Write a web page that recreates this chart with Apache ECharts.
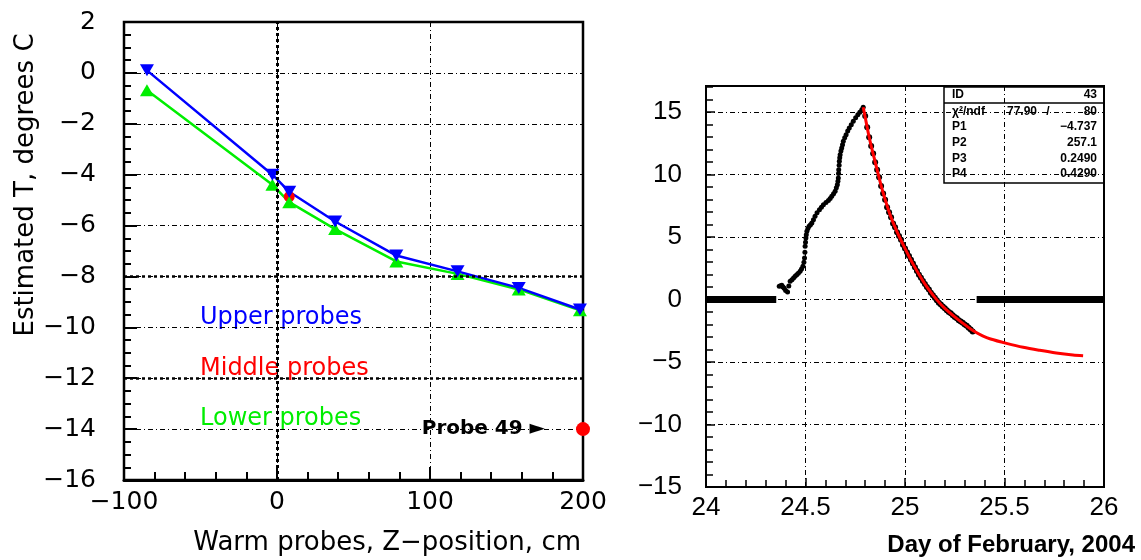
<!DOCTYPE html>
<html>
<head>
<meta charset="utf-8">
<script src="https://cdn.jsdelivr.net/npm/echarts@6/dist/echarts.min.js"></script>
<style>
html, body { margin: 0; padding: 0; background: #fff; }
#chart { width: 1141px; height: 560px; }
</style>
</head>
<body>
<div id="chart"></div>
<script>
// left panel: estimated temperature vs Z position of warm probes
var zPos = [-85, -3, 8, 38, 78, 118, 158, 198];
var upperT = [0.1, -4.0, -4.67, -5.84, -7.18, -7.8, -8.45, -9.3];
var lowerT = [-0.68, -4.4, -5.08, -6.14, -7.41, -7.9, -8.51, -9.33];
var middleZ = [8];
var middleT = [-4.86];
var probe49 = [[200, -14]];

// right panel: probe 43 temperature vs day of February 2004
var flatBefore = [[24, 0], [24.353, 0]];
var flatAfter = [[25.36, 0], [26, 0]];
var risePoints = [
  [24.368, 1.07], [24.375, 1.12], [24.381, 1.15], [24.387, 1.0], [24.393, 0.9], [24.40, 0.72],
  [24.41, 0.6], [24.416, 1.1], [24.423, 1.47], [24.432, 1.6], [24.44, 1.73], [24.448, 1.87],
  [24.456, 2.0], [24.464, 2.12], [24.473, 2.27], [24.48, 2.45], [24.487, 2.67], [24.492, 3.0],
  [24.495, 3.33], [24.497, 3.8], [24.498, 4.27], [24.50, 4.6], [24.502, 4.94], [24.504, 5.2],
  [24.507, 5.47], [24.512, 5.7], [24.518, 5.87], [24.525, 6.0], [24.532, 6.14], [24.54, 6.4],
  [24.548, 6.67], [24.558, 6.95], [24.57, 7.2], [24.58, 7.4], [24.59, 7.6], [24.603, 7.78],
  [24.615, 7.93], [24.624, 8.1], [24.632, 8.27], [24.641, 8.47], [24.649, 8.67], [24.655, 8.95],
  [24.66, 9.2], [24.663, 9.47], [24.665, 9.74], [24.666, 10.1], [24.667, 10.4], [24.669, 10.75],
  [24.67, 11.07], [24.672, 11.35], [24.674, 11.6], [24.678, 11.9], [24.682, 12.14], [24.686, 12.4],
  [24.69, 12.67], [24.697, 12.95], [24.704, 13.2], [24.712, 13.5], [24.72, 13.74], [24.73, 14.0],
  [24.74, 14.27], [24.752, 14.55], [24.763, 14.8], [24.773, 15.0], [24.783, 15.2], [24.79, 15.4]
];
var decayPoints = [
  [24.80, 14.7], [24.81, 13.8], [24.82, 13.0], [24.83, 12.3], [24.84, 11.7], [24.85, 11.0],
  [24.86, 10.4], [24.87, 9.8], [24.88, 9.1], [24.89, 8.5], [24.90, 8.0], [24.91, 7.4],
  [24.92, 7.0], [24.93, 6.6], [24.94, 6.1], [24.95, 5.8], [24.96, 5.4], [24.97, 5.1],
  [24.98, 4.8], [24.99, 4.4], [25.00, 4.1], [25.01, 3.8], [25.02, 3.5], [25.03, 3.2],
  [25.04, 2.9], [25.05, 2.6], [25.06, 2.3], [25.07, 2.0], [25.08, 1.75], [25.09, 1.5],
  [25.10, 1.25], [25.11, 1.0], [25.12, 0.8], [25.13, 0.55], [25.14, 0.35], [25.15, 0.15],
  [25.16, -0.05], [25.17, -0.25], [25.18, -0.4], [25.19, -0.55], [25.20, -0.7], [25.21, -0.85],
  [25.22, -1.0], [25.23, -1.1], [25.24, -1.25], [25.25, -1.4], [25.26, -1.5], [25.27, -1.65],
  [25.28, -1.75], [25.29, -1.85], [25.30, -2.0], [25.31, -2.1], [25.32, -2.25], [25.33, -2.4],
  [25.34, -2.55]
];
var fitCurve = [
  [24.79, 15.4], [24.80, 14.6], [24.816, 13.3], [24.83, 12.3], [24.841, 11.6], [24.866, 10.0],
  [24.891, 8.5], [24.925, 6.8], [24.958, 5.5], [25.0, 4.1], [25.042, 2.8], [25.092, 1.45],
  [25.12, 0.8], [25.159, 0], [25.2, -0.7], [25.259, -1.5], [25.3, -2.0], [25.343, -2.5],
  [25.39, -2.9], [25.43, -3.15], [25.51, -3.5], [25.594, -3.82], [25.677, -4.06],
  [25.76, -4.27], [25.844, -4.43], [25.895, -4.49]
];
var statLabels = ['P1', 'P2', 'P3', 'P4'];
var statValues = ['\u22124.737', '257.1', '0.2490', '0.4290'];

function zip(xs, ys) {
  return xs.map(function (x, i) { return [x, ys[i]]; });
}
function fmt(v) {
  return v < 0 ? '\u2212' + (-v) : String(v);
}

var gridDash = { color: '#000', width: 1, type: [5, 3, 1, 3] };
var leftFont = 'DejaVu Sans';
var rightFont = 'Liberation Sans';
var statFont = 'bold 12px "Liberation Sans"';

var chart = echarts.init(document.getElementById('chart'));

var option = {
  animation: false,
  backgroundColor: '#fff',
  grid: [
    { left: 124, top: 22, width: 459, height: 458, show: true, borderColor: '#000', borderWidth: 2.5 },
    { left: 706, top: 86, width: 398, height: 401, show: true, borderColor: '#000', borderWidth: 2 }
  ],
  xAxis: [
    {
      gridIndex: 0, type: 'value', min: -100, max: 200, interval: 100,
      axisLine: { show: true, onZero: false, lineStyle: { color: '#000', width: 3 } },
      axisTick: { inside: true, length: 13, lineStyle: { color: '#000', width: 2 } },
      minorTick: { show: true, splitNumber: 5, length: 8, lineStyle: { color: '#000', width: 2 } },
      axisLabel: { color: '#000', fontFamily: leftFont, fontSize: 25, margin: 10, formatter: fmt },
      splitLine: { show: true, lineStyle: gridDash }
    },
    {
      gridIndex: 1, type: 'value', min: 24, max: 26, interval: 0.5,
      axisLine: { show: true, onZero: false, lineStyle: { color: '#000', width: 2 } },
      axisTick: { inside: true, length: 9, lineStyle: { color: '#000', width: 1.5 } },
      minorTick: { show: true, splitNumber: 5, length: 7, lineStyle: { color: '#000', width: 1.5 } },
      axisLabel: { color: '#000', fontFamily: rightFont, fontSize: 26, margin: 8 },
      splitLine: { show: true, lineStyle: gridDash }
    }
  ],
  yAxis: [
    {
      gridIndex: 0, type: 'value', min: -16, max: 2, interval: 2,
      axisLine: { show: true, onZero: false, lineStyle: { color: '#000', width: 2 } },
      axisTick: { inside: true, length: 13, lineStyle: { color: '#000', width: 2 } },
      minorTick: { show: true, splitNumber: 4, length: 7, lineStyle: { color: '#000', width: 2 } },
      axisLabel: { color: '#000', fontFamily: leftFont, fontSize: 25, margin: 28, formatter: fmt },
      splitLine: { show: true, lineStyle: gridDash }
    },
    {
      gridIndex: 1, type: 'value', min: -15, max: 17.1, interval: 5,
      axisLine: { show: true, onZero: false, lineStyle: { color: '#000', width: 2 } },
      axisTick: { inside: true, length: 9, lineStyle: { color: '#000', width: 1.5 } },
      minorTick: { show: true, splitNumber: 5, length: 7, lineStyle: { color: '#000', width: 1.5 } },
      axisLabel: {
        color: '#000', fontFamily: rightFont, fontSize: 26, margin: 24, showMaxLabel: false,
        formatter: function (v) { return v % 5 === 0 ? fmt(v) : ''; }
      },
      splitLine: { show: true, lineStyle: gridDash }
    }
  ],
  series: [
    {
      name: 'Middle probes', type: 'line', xAxisIndex: 0, yAxisIndex: 0,
      data: zip(middleZ, middleT), symbol: 'circle', symbolSize: 11,
      itemStyle: { color: '#ff0000', opacity: 1 }, lineStyle: { color: '#ff0000', width: 2 },
      markLine: {
        silent: true, symbol: 'none', label: { show: false },
        lineStyle: { color: '#000', width: 3, type: [3, 3], opacity: 1 },
        data: [
          { xAxis: 0 },
          { yAxis: -8, lineStyle: { width: 2.5, type: [3, 3] } },
          { yAxis: -12, lineStyle: { width: 2.5, type: [3, 3] } }
        ]
      }
    },
    {
      name: 'Lower probes', type: 'line', xAxisIndex: 0, yAxisIndex: 0,
      data: zip(zPos, lowerT), symbol: 'triangle', symbolSize: [14, 12],
      itemStyle: { color: '#00ee00', opacity: 1 }, lineStyle: { color: '#00ee00', width: 2.5 }
    },
    {
      name: 'Upper probes', type: 'line', xAxisIndex: 0, yAxisIndex: 0,
      data: zip(zPos, upperT), symbol: 'triangle', symbolRotate: 180, symbolSize: [14, 12],
      itemStyle: { color: '#0000ff', opacity: 1 }, lineStyle: { color: '#0000ff', width: 2.5 }
    },
    {
      name: 'Probe 49', type: 'scatter', xAxisIndex: 0, yAxisIndex: 0,
      data: probe49, symbol: 'circle', symbolSize: 14,
      itemStyle: { color: '#ff0000', opacity: 1 },
      label: {
        show: true, position: 'left', distance: 31, formatter: 'Probe 49 \u25BA',
        color: '#000', opacity: 1, textBorderWidth: 0,
        fontFamily: leftFont, fontWeight: 'bold', fontSize: 20
      }
    },
    {
      type: 'line', xAxisIndex: 1, yAxisIndex: 1, data: flatBefore, symbol: 'none',
      lineStyle: { color: '#000', width: 7 }
    },
    {
      type: 'line', xAxisIndex: 1, yAxisIndex: 1, data: flatAfter, symbol: 'none',
      lineStyle: { color: '#000', width: 7 }
    },
    {
      type: 'scatter', xAxisIndex: 1, yAxisIndex: 1, data: risePoints,
      symbol: 'circle', symbolSize: 5, itemStyle: { color: '#000', opacity: 1 }
    },
    {
      type: 'scatter', xAxisIndex: 1, yAxisIndex: 1, data: decayPoints,
      symbol: 'circle', symbolSize: 6, itemStyle: { color: '#000', opacity: 1 }
    },
    {
      type: 'line', xAxisIndex: 1, yAxisIndex: 1, data: fitCurve, symbol: 'none',
      smooth: 0.3, lineStyle: { color: '#ff0000', width: 3 }, z: 5
    }
  ],
  graphic: [
    { type: 'text', x: 200, y: 318, style: { text: 'Upper probes', fill: '#0000ff', font: '24px "DejaVu Sans"', textVerticalAlign: 'middle' } },
    { type: 'text', x: 200, y: 369, style: { text: 'Middle probes', fill: '#ff0000', font: '24px "DejaVu Sans"', textVerticalAlign: 'middle' } },
    { type: 'text', x: 200, y: 419, style: { text: 'Lower probes', fill: '#00ee00', font: '24px "DejaVu Sans"', textVerticalAlign: 'middle' } },
    {
      type: 'text', x: 26, y: 185, rotation: Math.PI / 2,
      style: { text: 'Estimated T, degrees C', fill: '#000', font: '26px "DejaVu Sans"', textAlign: 'center', textVerticalAlign: 'middle' }
    },
    { type: 'text', x: 581, y: 543, style: { text: 'Warm probes, Z\u2212position, cm', fill: '#000', font: '26px "DejaVu Sans"', textAlign: 'right', textVerticalAlign: 'middle' } },
    { type: 'text', x: 1135, y: 545, style: { text: 'Day of February, 2004', fill: '#000', font: 'bold 24px "Liberation Sans"', textAlign: 'right', textVerticalAlign: 'middle' } },
    // fit statistics box
    { type: 'rect', shape: { x: 944, y: 87, width: 160, height: 96 }, style: { fill: 'none', stroke: '#000', lineWidth: 1.5 }, z: 10 },
    { type: 'line', shape: { x1: 944, y1: 103, x2: 1104, y2: 103 }, style: { stroke: '#000', lineWidth: 1.5 }, z: 10 },
    { type: 'text', x: 952, y: 95, style: { text: 'ID', fill: '#000', font: statFont, textVerticalAlign: 'middle' }, z: 10 },
    { type: 'text', x: 1097, y: 95, style: { text: '43', fill: '#000', font: statFont, textAlign: 'right', textVerticalAlign: 'middle' }, z: 10 },
    { type: 'text', x: 952, y: 112, style: { text: '\u03C7\u00B2/ndf', fill: '#000', font: statFont, textVerticalAlign: 'middle' }, z: 10 },
    { type: 'text', x: 1037, y: 112, style: { text: '77.90', fill: '#000', font: statFont, textAlign: 'right', textVerticalAlign: 'middle' }, z: 10 },
    { type: 'text', x: 1048, y: 112, style: { text: '/', fill: '#000', font: statFont, textAlign: 'center', textVerticalAlign: 'middle' }, z: 10 },
    { type: 'text', x: 1097, y: 112, style: { text: '80', fill: '#000', font: statFont, textAlign: 'right', textVerticalAlign: 'middle' }, z: 10 }
  ].concat(statLabels.map(function (lab, i) {
    return { type: 'text', x: 952, y: 127 + i * 15.7, style: { text: lab, fill: '#000', font: statFont, textVerticalAlign: 'middle' }, z: 10 };
  })).concat(statValues.map(function (val, i) {
    return { type: 'text', x: 1097, y: 127 + i * 15.7, style: { text: val, fill: '#000', font: statFont, textAlign: 'right', textVerticalAlign: 'middle' }, z: 10 };
  }))
};

chart.setOption(option);
window.addEventListener('resize', chart.resize);
</script>
</body>
</html>
